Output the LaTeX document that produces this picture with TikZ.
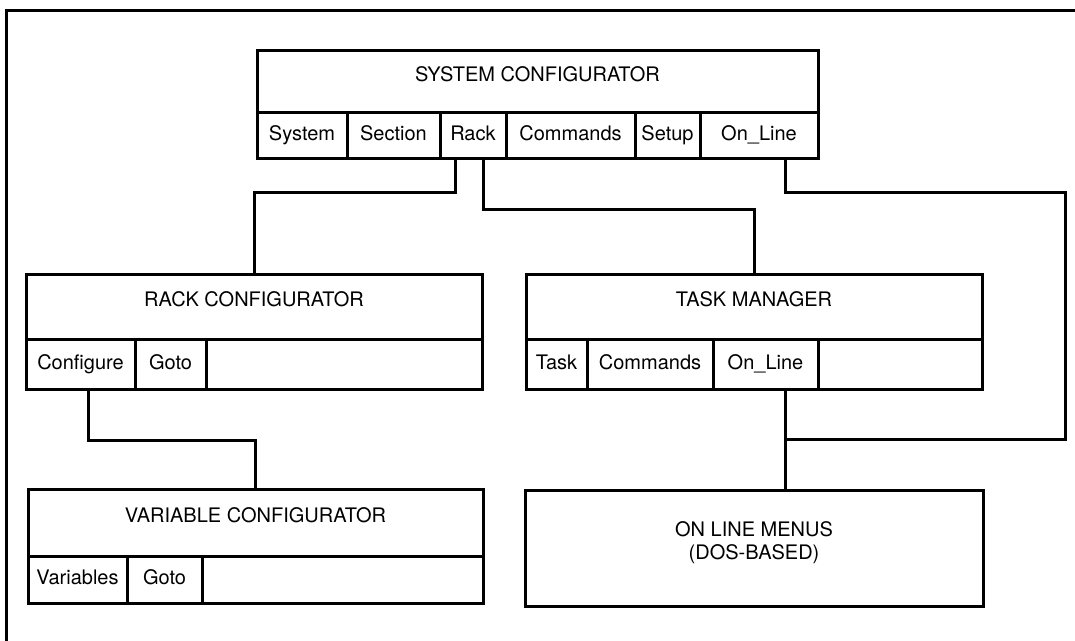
\documentclass[tikz,border=0pt]{standalone}
\usepackage{fontspec}
\setmainfont{TeX Gyre Heros}
\usetikzlibrary{positioning}

\begin{document}
\begin{tikzpicture}[
      font=\fontsize{20}{23}\selectfont,
      line width=3pt,
      hdr/.style={draw, anchor=north west, inner sep=0pt, outer sep=0pt,
                  text height=14pt, text depth=14pt},
      bar/.style={draw, anchor=north west, inner sep=0pt, outer sep=0pt},
      cell/.style={draw, inner sep=0pt, outer sep=0pt, text height=14pt,
                   text depth=4pt},
      wire/.style={line width=3pt}]

    %% page is 1075pt x 640pt, the outer frame runs off the right and bottom edge
    \useasboundingbox (0,0) rectangle (1075pt,-640pt);
    \clip (0,0) rectangle (1075pt,-640pt);
    \draw (6pt,-660pt) -- (6pt,-10pt) -- (1090pt,-10pt);

    %% ---- top level ----
    \node[hdr, minimum width=561pt, minimum height=62pt] (sys) at (257pt,-50pt)
      {SYSTEM CONFIGURATOR};
    \node[bar, minimum width=561pt, minimum height=46pt] (sysbar) at (sys.south west) {};
    \node[cell, anchor=north west, minimum width=90pt, minimum height=46pt] (sSys)
      at (sysbar.north west) {System};
    \node[cell, minimum width=93pt, minimum height=46pt, right=0pt of sSys] (sSec) {Section};
    \node[cell, minimum width=66pt, minimum height=46pt, right=0pt of sSec] (sRack) {Rack};
    \node[cell, minimum width=129pt, minimum height=46pt, right=0pt of sRack] (sCmd) {Commands};
    \node[cell, minimum width=65pt, minimum height=46pt, right=0pt of sCmd] (sSet) {Setup};
    \node[cell, minimum width=118pt, minimum height=46pt, right=0pt of sSet] (sOnl) {On\_Line};

    %% ---- second row ----
    \node[hdr, minimum width=456pt, minimum height=65pt] (rc) at (26pt,-274pt)
      {RACK CONFIGURATOR};
    \node[bar, minimum width=456pt, minimum height=50pt] (rcbar) at (rc.south west) {};
    \node[cell, anchor=north west, minimum width=109pt, minimum height=50pt] (rConf)
      at (rcbar.north west) {Configure};
    \node[cell, minimum width=71pt, minimum height=50pt, right=0pt of rConf] (rGoto) {Goto};

    \node[hdr, minimum width=456pt, minimum height=65pt] (tm) at (526pt,-274pt)
      {TASK MANAGER};
    \node[bar, minimum width=456pt, minimum height=50pt] (tmbar) at (tm.south west) {};
    \node[cell, anchor=north west, minimum width=61pt, minimum height=50pt] (tTask)
      at (tmbar.north west) {Task};
    \node[cell, minimum width=126pt, minimum height=50pt, right=0pt of tTask] (tCmd) {Commands};
    \node[cell, minimum width=105pt, minimum height=50pt, right=0pt of tCmd] (tOnl) {On\_Line};

    %% ---- third row ----
    \node[hdr, minimum width=455pt, minimum height=67pt] (vc) at (28pt,-489pt)
      {VARIABLE CONFIGURATOR};
    \node[bar, minimum width=455pt, minimum height=47pt] (vcbar) at (vc.south west) {};
    \node[cell, anchor=north west, minimum width=99pt, minimum height=47pt] (vVar)
      at (vcbar.north west) {Variables};
    \node[cell, minimum width=75pt, minimum height=47pt, right=0pt of vVar] (vGoto) {Goto};

    \node[bar, minimum width=458pt, minimum height=116pt] (olm) at (525pt,-490pt) {};
    \node[align=center, anchor=north, inner sep=0pt, below=30pt of olm.north] (olmtxt)
      {ON LINE MENUS\\(DOS-BASED)};

    %% ---- connectors ----
    \coordinate (olbend) at (1065pt,-192pt);
    \coordinate (oljoin) at ([xshift=20pt,yshift=-50pt]tOnl.south);
    \draw[wire] ([xshift=-18pt]sRack.south) -- ++(0,-34pt) -| (rc.north);
    \draw[wire] ([xshift=10pt]sRack.south) -- ++(0,-51pt) -| (tm.north);
    \draw[wire] ([xshift=26pt]sOnl.south) |- (olbend) |- (oljoin);
    \draw[wire] ([xshift=20pt]tOnl.south) -- (oljoin) -- (oljoin |- olm.north);
    \draw[wire] ([xshift=7.5pt]rConf.south) -- ++(0,-51pt) -| (vc.north);
  \end{tikzpicture}
\end{document}
